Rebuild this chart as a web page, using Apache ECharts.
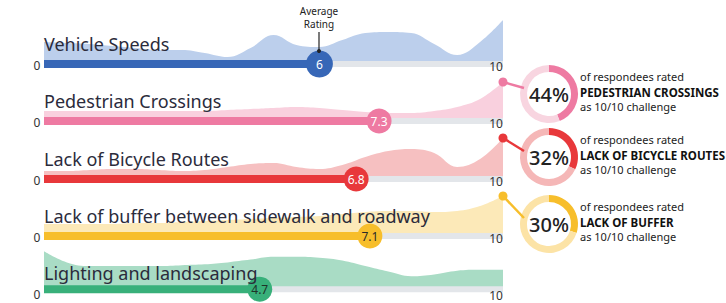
<!DOCTYPE html>
<html>
<head>
<meta charset="utf-8">
<script src="https://cdn.jsdelivr.net/npm/echarts@6/dist/echarts.min.js"></script>
<style>
  html, body { margin: 0; padding: 0; background: #fff; }
  #container { width: 726px; height: 303px; }
</style>
</head>
<body>
<div id="container"></div>
<script>
;(function() {

  // --- data ---
  var rowNames = ['Vehicle Speeds', 'Pedestrian Crossings', 'Lack of Bicycle Routes',
    'Lack of buffer between sidewalk and roadway', 'Lighting and landscaping']
  var averages = [6, 7.3, 6.8, 7.1, 4.7]
  var ratingSteps = [0, 0.5, 1, 1.5, 2, 2.5, 3, 3.5, 4, 4.5, 5, 5.5, 6, 6.5, 7, 7.5, 8, 8.5, 9, 9.5, 10]
  // relative spread of ratings (shape of the shaded area behind each bar)
  var vehicleDist = [22, 21, 20, 18, 16, 14, 14, 11, 7, 16, 29, 19, 17, 24, 31, 32, 31, 20, 9, 22, 44]
  var pedestrianDist = [10, 10, 10, 10, 10, 10, 10, 10, 11, 12, 13, 14, 13, 11, 9, 8, 8, 10, 14, 22, 39]
  var bicycleDist = [8, 8, 9, 10, 10, 9, 8, 9, 12, 15, 16, 12, 10, 14, 22, 28, 30, 26, 12, 20, 41]
  var bufferDist = [12, 12, 12, 12, 13, 13, 14, 15, 16, 17, 18, 19, 20, 22, 24, 25, 25, 24, 25, 30, 40]
  var lightingDist = [41, 29, 25, 25, 25, 25, 26, 27, 29, 32, 35, 35, 34, 31, 25, 19, 14, 16, 20, 21, 21]
  var dists = [vehicleDist, pedestrianDist, bicycleDist, bufferDist, lightingDist]

  var donutNames = ['PEDESTRIAN CROSSINGS', 'LACK OF BICYCLE ROUTES', 'LACK OF BUFFER']
  var donutShares = [44, 32, 30]
  var donutRows = [1, 2, 3]

  // --- styling ---
  var mainColors = ['#3767b7', '#ee7aa2', '#e8383b', '#f7be2b', '#38b07a']
  var areaColors = ['#bccfec', '#f9d0de', '#f6c0c1', '#fce9b8', '#a9dcc5']
  var ringColors = ['#f8d5e0', '#f5b7b7', '#fce3a6']
  var badgeText = ['#fff', '#fff', '#fff', '#2a2a2a', '#1e3328']
  var rowCenters = [64, 121, 179, 236, 293]
  var donutCenters = [94, 157, 224]
  var barLeft = 44, barRight = 503
  var font = '"Noto Sans", sans-serif'

  var dom = document.getElementById('container')
  var myChart = echarts.init(dom, null, { renderer: 'svg' })

  var grids = [], xAxes = [], yAxes = [], series = [], graphics = []

  for (var i = 0; i < rowNames.length; i++) {
    var c = rowCenters[i]
    grids.push({ left: barLeft, width: barRight - barLeft, top: c - 50, height: 65 })
    xAxes.push({ gridIndex: i, type: 'value', min: 0, max: 10, show: false })
    yAxes.push({ gridIndex: i, type: 'value', min: -15, max: 50, show: false })

    var area = []
    for (var k = 0; k < ratingSteps.length; k++) area.push([ratingSteps[k], dists[i][k]])

    series.push({
      type: 'line', xAxisIndex: i, yAxisIndex: i, smooth: 0.4, symbol: 'none', silent: true,
      lineStyle: { width: 0 }, areaStyle: { color: areaColors[i], opacity: 1 },
      data: area, z: 1
    })
    series.push({
      type: 'line', xAxisIndex: i, yAxisIndex: i, symbol: 'none', silent: true,
      lineStyle: { width: 6, color: '#e3e6ea', cap: 'butt' },
      data: [[averages[i], 0], [10, 0]], z: 2
    })
    series.push({
      type: 'line', xAxisIndex: i, yAxisIndex: i, symbol: 'none', silent: true,
      lineStyle: { width: 8, color: mainColors[i], cap: 'butt' },
      data: [[0, 0], [averages[i], 0]], z: 3
    })
    series.push({
      type: 'scatter', xAxisIndex: i, yAxisIndex: i, symbolSize: i === 0 ? 27 : 25, silent: true,
      itemStyle: { color: mainColors[i], opacity: 1 },
      label: {
        show: true, position: 'inside', color: badgeText[i], fontFamily: font, fontSize: 12,
        formatter: function(p) { return p.value[0] }
      },
      data: [[averages[i], 0]], z: 5
    })

    graphics.push({
      type: 'text', left: barLeft, top: c - 29, z: 10,
      style: { text: rowNames[i], font: '18px ' + font, fill: '#2b2b3b' }
    })
    graphics.push({
      type: 'text', x: 37, y: c + 1, z: 10,
      style: { text: '0', font: '12px ' + font, fill: '#333', align: 'center', verticalAlign: 'middle' }
    })
    graphics.push({
      type: 'text', x: 496, y: c + 2, z: 10,
      style: { text: '10', font: '12px ' + font, fill: '#333', align: 'center', verticalAlign: 'middle' }
    })
  }

  // average rating note
  graphics.push({
    type: 'text', x: 319, y: 11, z: 10,
    style: { text: 'Average', font: '10px ' + font, fill: '#222', align: 'center', verticalAlign: 'middle' }
  })
  graphics.push({
    type: 'text', x: 319, y: 24, z: 10,
    style: { text: 'Rating', font: '10px ' + font, fill: '#222', align: 'center', verticalAlign: 'middle' }
  })
  graphics.push({ type: 'line', z: 10, shape: { x1: 319, y1: 32, x2: 319, y2: 51 }, style: { stroke: '#222', lineWidth: 1.2 } })
  graphics.push({ type: 'circle', z: 10, shape: { cx: 319, cy: 51, r: 2 }, style: { fill: '#222' } })

  // donuts
  for (var d = 0; d < donutShares.length; d++) {
    var row = donutRows[d]
    var cy = donutCenters[d]
    var endY = rowCenters[row] - dists[row][dists[row].length - 1]
    series.push({
      type: 'pie', center: [549, cy], radius: [22, 29], startAngle: 90, clockwise: true,
      silent: true, label: { show: false }, labelLine: { show: false },
      data: [
        {
          value: donutShares[d], itemStyle: { color: mainColors[row] },
          label: { show: true, position: 'center', formatter: '{c}%', fontFamily: font, fontSize: 20, fontWeight: 500, color: '#222' }
        },
        { value: 100 - donutShares[d], itemStyle: { color: ringColors[d] } }
      ]
    })
    graphics.push({ type: 'line', z: 9, shape: { x1: 503, y1: endY, x2: 524, y2: cy - 6 }, style: { stroke: mainColors[row], lineWidth: 2.5 } })
    graphics.push({ type: 'circle', z: 9, shape: { cx: 503, cy: endY, r: 4.5 }, style: { fill: mainColors[row] } })
    graphics.push({
      type: 'text', left: 580, top: cy - 23, z: 10,
      style: { text: 'of respondees rated', font: '11px ' + font, fill: '#222' }
    })
    graphics.push({
      type: 'text', left: 580, top: cy - 8, z: 10,
      style: { text: donutNames[d], font: 'bold 11.5px ' + font, fill: '#111' }
    })
    graphics.push({
      type: 'text', left: 580, top: cy + 7, z: 10,
      style: { text: 'as 10/10 challenge', font: '11px ' + font, fill: '#222' }
    })
  }

  var option = {
    animation: false,
    grid: grids,
    xAxis: xAxes,
    yAxis: yAxes,
    series: series,
    graphic: graphics
  }

  myChart.setOption(option, true)
})()
</script>
</body>
</html>
